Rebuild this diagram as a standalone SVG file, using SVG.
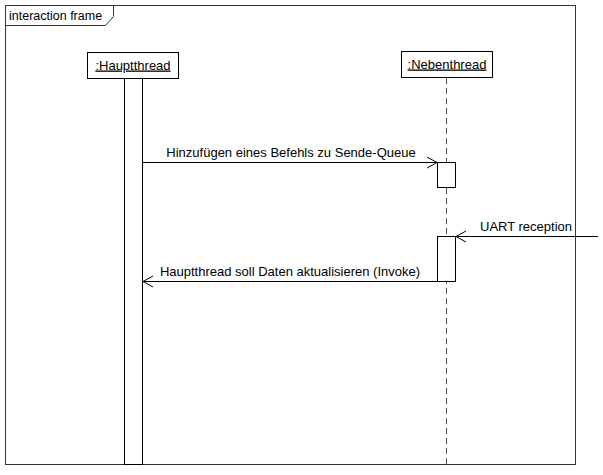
<svg xmlns="http://www.w3.org/2000/svg" width="603" height="475" viewBox="0 0 603 475">
<style>
text{font-family:"Liberation Sans",Arial,sans-serif;font-size:13px;fill:#000}
.box{fill:#fff;stroke:#000;stroke-width:1}
.act{fill:#fff;stroke:#000;stroke-width:1}
.life{stroke:#555;stroke-width:1;stroke-dasharray:6,4;fill:none}
.msg{stroke:#000;stroke-width:1;fill:none}
.head{stroke:#000;stroke-width:1;fill:none}
</style>
<rect width="603" height="475" fill="#fff"/>
<g id="frame">
<rect x="5.5" y="5.5" width="570" height="459" fill="none" stroke="#333"/>
<path d="M5.5 25.5 H105.5 L113.5 16.5 V5.5" fill="none" stroke="#333"/>
<text x="9" y="20" style="font-size:12.5px">interaction frame</text>
</g>
<g id="hauptthread">
<rect class="box" x="87.5" y="52.5" width="91" height="26"/>
<text x="133" y="69.5" text-anchor="middle" text-decoration="underline">:Hauptthread</text>
<rect class="act" x="124.5" y="78.5" width="18" height="386"/>
</g>
<g id="nebenthread">
<rect class="box" x="401.5" y="51.5" width="91" height="26"/>
<text x="447" y="68.5" text-anchor="middle" text-decoration="underline">:Nebenthread</text>
<line class="life" x1="446.5" y1="78" x2="446.5" y2="464"/>
<rect class="act" x="437.5" y="162.5" width="18" height="25"/>
<rect class="act" x="437.5" y="236.5" width="18" height="45"/>
</g>
<g id="connectors">
<line class="msg" x1="142" y1="162.5" x2="437" y2="162.5"/>
<path class="head" d="M427 157 L437 162.5 L427 168"/>
<text x="291" y="157" text-anchor="middle">Hinzufügen eines Befehls zu Sende-Queue</text>
<line class="msg" x1="598" y1="236.5" x2="456" y2="236.5"/>
<path class="head" d="M466 231 L456 236.5 L466 242"/>
<text x="480" y="231">UART reception</text>
<line class="msg" x1="437" y1="281.5" x2="143" y2="281.5"/>
<path class="head" d="M153 276 L143 281.5 L153 287"/>
<text x="290" y="276" text-anchor="middle">Hauptthread soll Daten aktualisieren (Invoke)</text>
</g>
</svg>
